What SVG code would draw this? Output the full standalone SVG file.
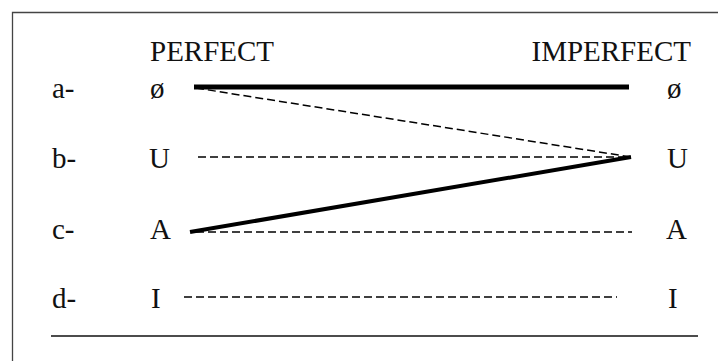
<svg xmlns="http://www.w3.org/2000/svg" width="718" height="361" viewBox="0 0 718 361">
<style>
text{font-family:"Liberation Serif","DejaVu Serif",serif;font-size:29px;fill:#111}
.thick{stroke:#000;stroke-width:5;fill:none}
.thick2{stroke:#000;stroke-width:4;fill:none}
.dash{stroke:#000;stroke-width:1.5;stroke-dasharray:8 4;fill:none}
.frame{stroke:#444;stroke-width:1.3;fill:none}
</style>
<rect width="718" height="361" fill="#fff"/>
<g id="frame">
<path class="frame" d="M12.5 361V12.5H718"/>
<line x1="51" y1="336" x2="698" y2="336" stroke="#111" stroke-width="1.5"/>
</g>
<g id="headers">
<text x="150" y="61">PERFECT</text>
<text x="691" y="61" text-anchor="end">IMPERFECT</text>
</g>
<g id="row-a">
<text x="52" y="98">a-</text>
<text x="150" y="98">ø</text>
<text x="667" y="98">ø</text>
</g>
<g id="row-b">
<text x="52" y="168">b-</text>
<text x="149" y="168">U</text>
<text x="667" y="168">U</text>
</g>
<g id="row-c">
<text x="52" y="239">c-</text>
<text x="150" y="239">A</text>
<text x="666" y="239">A</text>
</g>
<g id="row-d">
<text x="52" y="308">d-</text>
<text x="151" y="308">I</text>
<text x="668" y="308">I</text>
</g>
<g id="connectors">
<line class="thick" x1="194" y1="87" x2="629" y2="87"/>
<line class="dash" x1="196" y1="88" x2="631" y2="157"/>
<line class="dash" x1="198" y1="157" x2="631" y2="157"/>
<line class="thick2" x1="190" y1="232" x2="631" y2="157"/>
<line class="dash" x1="196" y1="232" x2="632" y2="232"/>
<line class="dash" x1="184" y1="297" x2="617" y2="297"/>
</g>
</svg>
